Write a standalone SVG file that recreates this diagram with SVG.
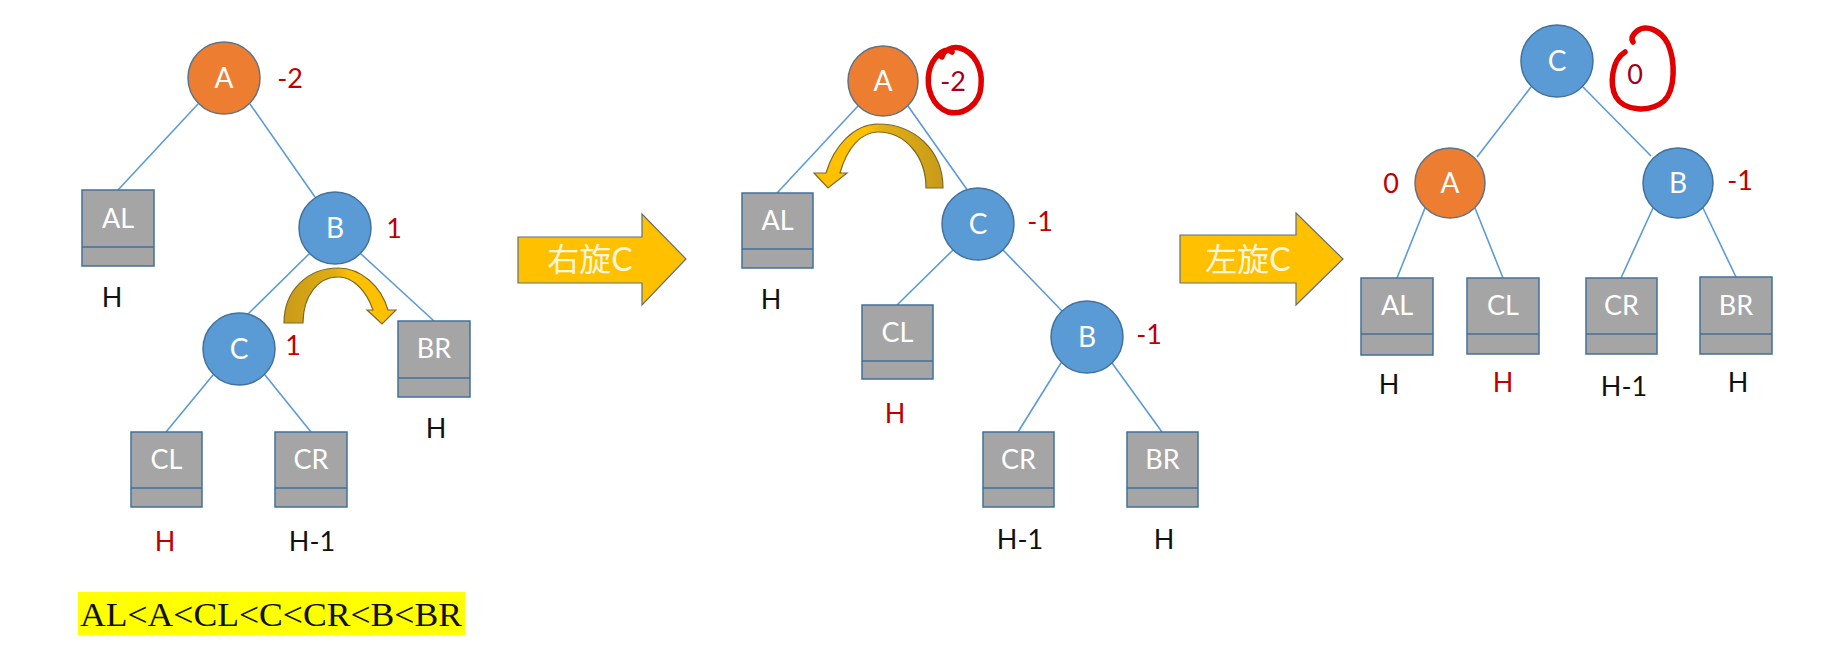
<svg xmlns="http://www.w3.org/2000/svg" width="1824" height="664" viewBox="0 0 1824 664">
<defs>
<style>
.edge{stroke:#5B9BD5;stroke-width:1.6;fill:none}
.cb{fill:#5B9BD5;stroke:#41719C;stroke-width:1.5}
.co{fill:#ED7D31;stroke:#5F7386;stroke-width:1.5}
.box{fill:#A5A5A5;stroke:#41719C;stroke-width:1.5}
.div{stroke:#41719C;stroke-width:1.5}
.nt{font-family:Lato,"Liberation Sans",sans-serif;font-size:28px;fill:#fff;text-anchor:middle}
.bt{font-family:Lato,"Liberation Sans",sans-serif;font-size:27px;fill:#fff;text-anchor:middle}
.lbl{font-family:Lato,"Liberation Sans",sans-serif;font-size:27px;fill:#111;text-anchor:middle}
.red{fill:#C00000}
.dred{fill:#A00020}
.big{fill:#FFC000;stroke:#5F7080;stroke-width:1.2}
.at{font-family:Lato,"Noto Sans CJK SC",sans-serif;font-size:32px;fill:#FFF6DA;text-anchor:middle}
.loop{fill:none;stroke:#E00000;stroke-width:5.5;stroke-linecap:round;stroke-linejoin:round}
.curv{stroke:#7D6A2A;stroke-width:1.2}
</style>
<linearGradient id="gL" x1="0" y1="0" x2="1" y2="0">
<stop offset="0" stop-color="#C99A1A"/><stop offset="0.45" stop-color="#E0AE12"/><stop offset="0.6" stop-color="#FFC000"/><stop offset="1" stop-color="#FFC000"/>
</linearGradient>
<linearGradient id="gR" x1="1" y1="0" x2="0" y2="0">
<stop offset="0" stop-color="#C99A1A"/><stop offset="0.45" stop-color="#E0AE12"/><stop offset="0.6" stop-color="#FFC000"/><stop offset="1" stop-color="#FFC000"/>
</linearGradient>
</defs>
<rect width="1824" height="664" fill="#fff"/>

<g id="connectors">
<line class="edge" x1="198" y1="104" x2="118" y2="190"/>
<line class="edge" x1="250" y1="104" x2="315" y2="197"/>
<line class="edge" x1="309" y1="254" x2="247" y2="315"/>
<line class="edge" x1="361" y1="254" x2="434" y2="321"/>
<line class="edge" x1="213" y1="375" x2="166" y2="432"/>
<line class="edge" x1="265" y1="375" x2="311" y2="432"/>
<line class="edge" x1="858" y1="106" x2="777" y2="193"/>
<line class="edge" x1="908" y1="106" x2="968" y2="191"/>
<line class="edge" x1="953" y1="250" x2="897" y2="305"/>
<line class="edge" x1="1003" y1="250" x2="1062" y2="311"/>
<line class="edge" x1="1061" y1="363" x2="1018" y2="432"/>
<line class="edge" x1="1112" y1="363" x2="1162" y2="432"/>
<line class="edge" x1="1531" y1="87" x2="1477" y2="157"/>
<line class="edge" x1="1583" y1="87" x2="1651" y2="156"/>
<line class="edge" x1="1425" y1="208" x2="1397" y2="278"/>
<line class="edge" x1="1475" y1="208" x2="1503" y2="278"/>
<line class="edge" x1="1653" y1="208" x2="1621" y2="278"/>
<line class="edge" x1="1703" y1="208" x2="1736" y2="277"/>
</g>

<g id="L-A"><circle class="co" cx="224" cy="78" r="36"/><text class="nt" x="224" y="88">A</text><text class="lbl red" x="290" y="88">-2</text></g>
<g id="L-B"><circle class="cb" cx="335" cy="228" r="36"/><text class="nt" x="335" y="238">B</text><text class="lbl red" x="394" y="238">1</text></g>
<g id="L-C"><circle class="cb" cx="239" cy="349" r="36"/><text class="nt" x="239" y="359">C</text><text class="lbl red" x="293" y="355">1</text></g>
<g id="L-AL"><rect class="box" x="82" y="190" width="72" height="76"/><line class="div" x1="82" y1="247" x2="154" y2="247"/><text class="bt" x="118" y="228">AL</text><text class="lbl" x="112" y="307">H</text></g>
<g id="L-BR"><rect class="box" x="398" y="321" width="72" height="76"/><line class="div" x1="398" y1="378" x2="470" y2="378"/><text class="bt" x="434" y="358">BR</text><text class="lbl" x="436" y="438">H</text></g>
<g id="L-CL"><rect class="box" x="131" y="432" width="71" height="75"/><line class="div" x1="131" y1="488" x2="202" y2="488"/><text class="bt" x="166.5" y="469">CL</text><text class="lbl red" x="165" y="551">H</text></g>
<g id="L-CR"><rect class="box" x="275" y="432" width="72" height="75"/><line class="div" x1="275" y1="488" x2="347" y2="488"/><text class="bt" x="311" y="469">CR</text><text class="lbl" x="312" y="551">H-1</text></g>
<g id="L-rot">
<path class="curv" fill="url(#gL)" d="M284,323 C284,290 308,268 338,268 C361,268 381,286 388,310 L396,310 L382,324 L367,310 L373,310 C366,290 353,277 338,277 C318,277 303,296 303,323 Z"/>
</g>
<g id="order">
<rect x="78" y="592" width="387" height="43" fill="#FFFF00"/>
<text x="80" y="626" font-family="'Liberation Serif',serif" font-size="34" fill="#111" textLength="382" lengthAdjust="spacingAndGlyphs">AL&lt;A&lt;CL&lt;C&lt;CR&lt;B&lt;BR</text>
</g>

<g id="arrow-right-rotate">
<path class="big" d="M518,237 H642 V214 L686,259 L642,305 V283 H518 Z"/>
<text class="at" x="590" y="271">右旋C</text>
</g>

<g id="M-A"><circle class="co" cx="883" cy="81" r="35"/><text class="nt" x="883" y="91">A</text><text class="lbl dred" x="953" y="91">-2</text>
<path class="loop" d="M952,52 C944,46 932,58 929,72 C926,88 932,106 948,112 C964,116 980,104 981,86 C983,68 974,52 960,48 C952,46 944,50 942,57"/></g>
<g id="M-C"><circle class="cb" cx="978" cy="224" r="36"/><text class="nt" x="978" y="234">C</text><text class="lbl red" x="1040" y="231">-1</text></g>
<g id="M-B"><circle class="cb" cx="1087" cy="337" r="36"/><text class="nt" x="1087" y="347">B</text><text class="lbl red" x="1149" y="344">-1</text></g>
<g id="M-AL"><rect class="box" x="742" y="193" width="71" height="75"/><line class="div" x1="742" y1="249" x2="813" y2="249"/><text class="bt" x="777.5" y="230">AL</text><text class="lbl" x="771" y="309">H</text></g>
<g id="M-CL"><rect class="box" x="862" y="305" width="71" height="74"/><line class="div" x1="862" y1="361" x2="933" y2="361"/><text class="bt" x="897.5" y="342">CL</text><text class="lbl red" x="895" y="423">H</text></g>
<g id="M-CR"><rect class="box" x="983" y="432" width="71" height="75"/><line class="div" x1="983" y1="488" x2="1054" y2="488"/><text class="bt" x="1018.5" y="469">CR</text><text class="lbl" x="1020" y="549">H-1</text></g>
<g id="M-BR"><rect class="box" x="1127" y="432" width="71" height="75"/><line class="div" x1="1127" y1="488" x2="1198" y2="488"/><text class="bt" x="1162.5" y="469">BR</text><text class="lbl" x="1164" y="549">H</text></g>
<g id="M-rot">
<path class="curv" fill="url(#gR)" d="M943,188 C943,150 914,124 878,124 C854,124 834,146 826,173 L814,173 L828,188 L847,173 L840,173 C847,148 861,132 878,132 C905,132 926,156 926,188 Z"/>
</g>

<g id="arrow-left-rotate">
<path class="big" d="M1180,235 H1296 V213 L1343,259 L1296,305 V283 H1180 Z"/>
<text class="at" x="1248" y="271">左旋C</text>
</g>

<g id="R-C"><circle class="cb" cx="1557" cy="61" r="36"/><text class="nt" x="1557" y="71">C</text><text class="lbl dred" x="1635" y="84">0</text>
<path class="loop" d="M1625,52 C1612,60 1609,84 1616,97 C1624,111 1650,113 1664,101 C1676,89 1675,60 1668,44 C1661,30 1646,24 1637,31 C1632,35 1631,39 1633,42"/></g>
<g id="R-A"><circle class="co" cx="1450" cy="183" r="35"/><text class="nt" x="1450" y="193">A</text><text class="lbl red" x="1391" y="193">0</text></g>
<g id="R-B"><circle class="cb" cx="1678" cy="183" r="35"/><text class="nt" x="1678" y="193">B</text><text class="lbl red" x="1740" y="190">-1</text></g>
<g id="R-AL"><rect class="box" x="1361" y="278" width="72" height="77"/><line class="div" x1="1361" y1="334" x2="1433" y2="334"/><text class="bt" x="1397" y="315">AL</text><text class="lbl" x="1389" y="394">H</text></g>
<g id="R-CL"><rect class="box" x="1467" y="278" width="72" height="76"/><line class="div" x1="1467" y1="334" x2="1539" y2="334"/><text class="bt" x="1503" y="315">CL</text><text class="lbl red" x="1503" y="392">H</text></g>
<g id="R-CR"><rect class="box" x="1586" y="278" width="71" height="76"/><line class="div" x1="1586" y1="334" x2="1657" y2="334"/><text class="bt" x="1621.5" y="315">CR</text><text class="lbl" x="1624" y="396">H-1</text></g>
<g id="R-BR"><rect class="box" x="1700" y="277" width="72" height="77"/><line class="div" x1="1700" y1="334" x2="1772" y2="334"/><text class="bt" x="1736" y="315">BR</text><text class="lbl" x="1738" y="392">H</text></g>
</svg>
